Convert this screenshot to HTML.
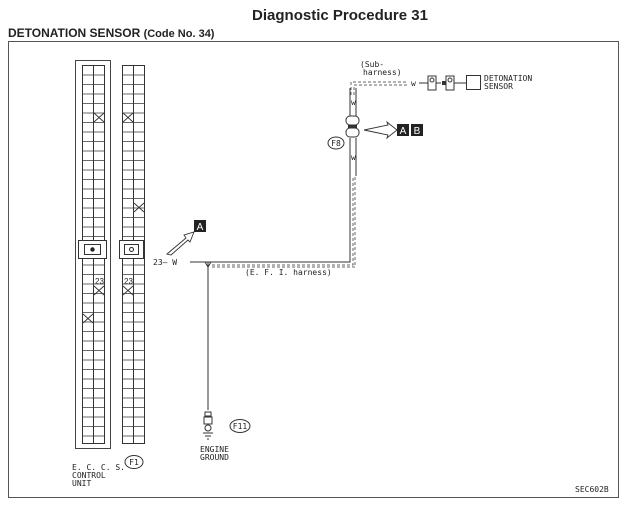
<!DOCTYPE html>
<html><head><meta charset="utf-8"><style>
body{margin:0;background:#fff;width:626px;height:506px;overflow:hidden}
svg text{font-family:"Liberation Sans",sans-serif;fill:#222}
.m{font-family:"DejaVu Sans Mono","Liberation Mono",monospace;font-size:8px}
</style></head><body>
<svg width="626" height="506" viewBox="0 0 626 506" xmlns="http://www.w3.org/2000/svg">
<defs>
<pattern id="rows" x="0" y="65" width="10" height="9.5" patternUnits="userSpaceOnUse">
<line x1="0" y1="0.5" x2="10" y2="0.5" stroke="#444" stroke-width="0.8"/>
</pattern>
</defs>
<text x="340" y="20" font-size="15" font-weight="bold" text-anchor="middle">Diagnostic Procedure 31</text>
<text x="8" y="37" font-size="12" font-weight="bold">DETONATION SENSOR <tspan font-size="11">(Code No. 34)</tspan></text>
<rect x="8.5" y="41.5" width="610" height="456" fill="none" stroke="#555" stroke-width="1"/>

<!-- ECU -->
<rect x="75.5" y="60.5" width="35" height="388" fill="none" stroke="#444"/>
<rect x="82.5" y="65.5" width="22" height="378" fill="url(#rows)" stroke="#333"/>
<line x1="93.5" y1="65" x2="93.5" y2="443" stroke="#333"/>
<rect x="78.5" y="240.5" width="28" height="18" fill="#fff" stroke="#333"/>
<rect x="84.5" y="244.5" width="16" height="10" fill="#fff" stroke="#333"/>
<circle cx="92.5" cy="249.5" r="2.2" fill="#222"/>
<!-- F1 -->
<rect x="122.5" y="65.5" width="22" height="378" fill="url(#rows)" stroke="#333"/>
<line x1="133.5" y1="65" x2="133.5" y2="443" stroke="#333"/>
<rect x="119.5" y="240.5" width="24" height="18" fill="#fff" stroke="#333"/>
<rect x="124.5" y="244.5" width="14" height="10" fill="#fff" stroke="#333"/>
<circle cx="131.5" cy="249.5" r="2" fill="none" stroke="#222"/>
<!-- X marks -->
<g stroke="#333" stroke-width="0.9">
<path d="M94 113l10 9M104 113l-10 9"/>
<path d="M94 286l10 9M104 286l-10 9"/>
<path d="M83 314l10 9M93 314l-10 9"/>
<path d="M123 113l10 9M133 113l-10 9"/>
<path d="M134 203l10 9M144 203l-10 9"/>
<path d="M123 286l10 9M133 286l-10 9"/>
</g>
<text x="95" y="284" font-size="8">23</text>
<text x="124" y="284" font-size="8">23</text>

<text x="72" y="470" class="m">E. C. C. S.</text>
<text x="72" y="478" class="m">CONTROL</text>
<text x="72" y="486" class="m">UNIT</text>
<ellipse cx="134" cy="462" rx="9" ry="6.5" fill="none" stroke="#333"/>
<text x="134" y="465" class="m" font-size="7" text-anchor="middle">F1</text>

<!-- arrow A -->
<path d="M167 254 L186 238 L184 235 L194 232 L190 242 L188 240 L171 255 Z" fill="#fff" stroke="#333" stroke-width="0.9"/>
<rect x="194" y="220" width="12" height="12" fill="#222"/>
<text x="200" y="230" font-size="10" fill="#fff" text-anchor="middle" style="fill:#fff">A</text>

<!-- wiring -->
<text x="153" y="265" class="m" font-size="7">23— W</text>
<line x1="190" y1="262" x2="208" y2="262" stroke="#333"/>
<path d="M208 262 H350 V176" fill="none" stroke="#333"/>
<path d="M212 265 H353 V176" fill="none" stroke="#666" stroke-dasharray="3 2"/>
<path d="M212 267 H355 V176" fill="none" stroke="#666" stroke-dasharray="3 2"/>
<text x="245" y="275" class="m">(E. F. I.  harness)</text>
<line x1="208" y1="262" x2="208" y2="410" stroke="#333"/>
<path d="M205 262 l3 5 l3 -5" fill="none" stroke="#333"/>
<rect x="205" y="412" width="6" height="4" fill="#fff" stroke="#333"/>
<rect x="204" y="417" width="8" height="7" fill="#fff" stroke="#333"/>
<circle cx="208" cy="428" r="3" fill="none" stroke="#333"/>
<line x1="203" y1="433" x2="213" y2="433" stroke="#333"/>
<line x1="205" y1="436" x2="211" y2="436" stroke="#333"/>
<line x1="207" y1="439" x2="209" y2="439" stroke="#333"/>
<ellipse cx="240" cy="426" rx="10" ry="6.5" fill="none" stroke="#333"/>
<text x="240" y="429" class="m" font-size="7" text-anchor="middle">F11</text>
<text x="200" y="452" class="m">ENGINE</text>
<text x="200" y="460" class="m">GROUND</text>

<!-- vertical to F8 -->
<line x1="350" y1="176" x2="350" y2="138" stroke="#333"/>
<line x1="356" y1="176" x2="356" y2="138" stroke="#333"/>
<text x="351" y="160" class="m" font-size="6">w</text>
<rect x="346" y="128" width="13" height="9" rx="4" fill="#fff" stroke="#333"/>
<rect x="346" y="116" width="13" height="9" rx="4" fill="#fff" stroke="#333"/>
<rect x="348" y="125" width="9" height="3" fill="#333"/>
<ellipse cx="336" cy="143" rx="8" ry="6" fill="none" stroke="#333"/>
<text x="336" y="146" class="m" font-size="6.5" text-anchor="middle">F8</text>
<line x1="350" y1="116" x2="350" y2="88" stroke="#333"/>
<line x1="356" y1="116" x2="356" y2="88" stroke="#333"/>
<text x="351" y="105" class="m" font-size="6">w</text>
<path d="M351 95 V82 H408" fill="none" stroke="#666" stroke-dasharray="3 2"/>
<path d="M354 95 V85 H408" fill="none" stroke="#666" stroke-dasharray="3 2"/>
<text x="360" y="67" class="m">(Sub-</text>
<text x="363" y="75" class="m">harness)</text>
<!-- arrow AB -->
<path d="M364 130 L388 125 L387 122 L397 130 L387 138 L388 135 Z" fill="#fff" stroke="#333" stroke-width="0.9"/>
<rect x="397" y="124" width="12" height="12" fill="#222"/>
<rect x="411" y="124" width="12" height="12" fill="#222"/>
<text x="403" y="134" font-size="10" text-anchor="middle" style="fill:#fff">A</text>
<text x="417" y="134" font-size="10" text-anchor="middle" style="fill:#fff">B</text>
<!-- sensor side -->
<text x="411" y="86" class="m" font-size="6">w</text>
<line x1="419" y1="83" x2="428" y2="83" stroke="#333"/>
<rect x="428" y="76" width="8" height="14" fill="#fff" stroke="#333"/>
<circle cx="432" cy="80" r="2" fill="none" stroke="#333"/>
<line x1="436" y1="83" x2="441" y2="83" stroke="#333"/>
<rect x="446" y="76" width="8" height="14" fill="#fff" stroke="#333"/>
<circle cx="450" cy="80" r="2" fill="none" stroke="#333"/>
<rect x="442" y="81" width="4" height="4" fill="#333"/>
<line x1="454" y1="83" x2="466" y2="83" stroke="#333"/>
<rect x="466.5" y="75.5" width="14" height="14" fill="#fff" stroke="#333"/>
<text x="484" y="81" class="m">DETONATION</text>
<text x="484" y="89" class="m">SENSOR</text>

<text x="575" y="492" class="m" font-size="7.5">SEC602B</text>
</svg>
</body></html>
